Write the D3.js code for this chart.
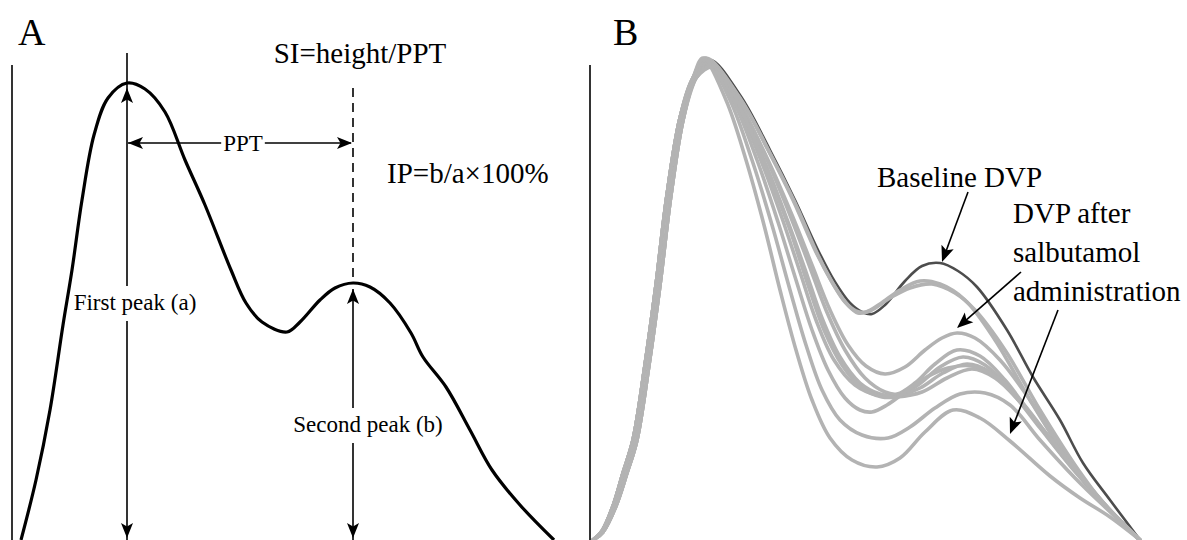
<!DOCTYPE html>
<html><head><meta charset="utf-8">
<script src="https://cdn.jsdelivr.net/npm/d3@7"></script>
<style>
html,body{margin:0;padding:0;background:#fff;}
svg{display:block;}
text{font-family:"Liberation Serif","Times New Roman",serif;fill:#000;}
</style></head><body>
<svg id="chart" width="1187" height="540" font-family="Liberation Serif, Times New Roman, serif"></svg>
<script>
// ---------- Panel A : single digital volume pulse (time in ms, amplitude in a.u.) ----------
const aTime = [2,32,60,86,104,124,148,176,214,250,290,330,370,422,452,484,534,560,600,630,666,700,740,782,806,852,900,944,1000,1068];
const aAmp  = [0,15,32.5,53.75,67.5,85,101.25,110.5,114.25,112.75,107,95,83.75,67.5,59.25,54.5,52,54.5,60,63,64.25,63.25,59.25,51.75,45.75,38.25,27.5,17.5,8.75,0];
const firstPeak  = {t: 214, a: 114.25};
const secondPeak = {t: 666, a: 64.25};

// ---------- Panel B : baseline DVP and DVPs after salbutamol ----------
const riseEarly = [[0,0],[18,2.25],[40,8.5],[60,16.75],[80,25],[104,43.75],[126,63.75],[148,86.25],[174,105.5],[200,115.5]];
const riseLate  = [[0,0],[20,2],[46,8.5],[68,16.75],[88,25],[112,43.75],[134,63.75],[156,86.25],[181,105.5],[206,115.5]];

const baselineFall = [[234,120],[294,111.25],[354,97.5],[404,85],[450,72.5],[484,64.5],[514,59.25],[538,57],[558,56.5],[584,58.75],[624,64.75],[658,68.5],[694,69.25],[730,67.25],[768,63.25],[828,52.5],[880,40.75],[934,30],[980,19.25],[1034,10],[1094,0]];

const salb1 = [[226,120.5],[290,111.25],[350,97.5],[400,85],[444,72.5],[478,64.5],[504,59.5],[526,57.25],[546,57],[574,59],[614,62.5],[654,64.75],[694,64],[744,60],[804,50],[874,35],[944,21.25],[1014,10],[1094,0]];
const salb2 = [[230,119.75],[296,110],[356,96.25],[406,83.75],[450,71.25],[484,63.25],[510,58.75],[530,56.75],[554,57.25],[594,60.5],[634,63],[678,64],[724,61.75],[764,57.5],[824,47.5],[894,32.5],[964,18.75],[1024,8.75],[1094,0]];
const salb3 = [[238,119],[294,108.75],[350,95],[398,81.25],[438,68.75],[474,57.5],[510,48.75],[546,43.5],[584,41.5],[624,43.25],[664,47.5],[698,50.5],[728,51.75],[764,50.5],[814,45],[874,35],[944,21.25],[1014,10],[1094,0]];
const salb4 = [[234,119.5],[290,110],[344,96.25],[390,82.5],[430,69.5],[466,57.5],[504,47.5],[544,40.5],[584,37],[608,36.5],[644,39.25],[684,44],[728,47.5],[774,46],[824,40],[884,30],[954,18.75],[1024,8.75],[1094,0]];
const salb5 = [[240,118.5],[294,108],[346,93.75],[390,79.5],[426,67],[458,55.5],[494,45.75],[534,39.25],[574,36.5],[608,36],[650,38.75],[694,43.25],[740,45.75],[784,43.75],[834,37.5],[894,28],[958,18],[1024,8.75],[1094,0]];
const salb6 = [[232,119.75],[284,110],[334,95.5],[378,80.5],[414,67],[446,55],[482,45],[524,38.75],[568,36.25],[608,36],[654,38],[700,41.75],[748,44],[794,42],[844,36],[904,27],[964,17.5],[1028,8.25],[1094,0]];
const salb7 = [[242,118.25],[296,107.5],[348,92.5],[394,77.5],[430,63.75],[462,52.5],[498,43.75],[538,38],[578,35.75],[608,35.75],[658,37],[708,40.5],[758,42.75],[804,40.5],[854,34.5],[910,26],[970,16.75],[1030,8],[1094,0]];
const salb8 = [[228,120.25],[280,110],[328,95],[370,79.5],[406,65],[438,52.5],[470,42.5],[504,35.5],[534,32.5],[558,32],[588,33.75],[624,37],[664,40.5],[710,43],[758,43.5],[804,41],[854,35],[914,25.5],[974,16.25],[1034,7.5],[1094,0]];
const salb9 = [[224,120.5],[274,110],[318,95],[358,78.75],[394,62.5],[426,48.75],[458,37.5],[494,30],[538,26.25],[590,25.5],[634,28.25],[684,33],[734,36.5],[784,36.75],[834,33.75],[894,25],[964,15.5],[1030,7.5],[1094,0]];
const salb10 = [[220,120.5],[266,110],[306,95],[342,78.75],[374,62.5],[406,47.5],[438,35],[474,25.5],[518,20],[568,18.25],[614,20.5],[664,27],[720,32.5],[774,30.5],[834,24.75],[914,16],[974,10.5],[1034,5.75],[1094,0]];

const salbFalls = [salb1,salb2,salb3,salb4,salb5,salb6,salb7,salb8,salb9,salb10];
const salbRise  = ["early","late","late","early","late","early","late","early","early","early"];

// annotation arrows of panel B, in data units [time, amplitude]
const arrowsB = [
  {from:[750,87],  to:[698,69.5]},
  {from:[856,67],  to:[728,53]},
  {from:[930,57.5],to:[834,26.5]}
];

// ---------- drawing ----------
const svg = d3.select("#chart");
const xA = d3.scaleLinear().domain([0,1060]).range([20,550]);
const yA = d3.scaleLinear().domain([0,120]).range([540,60]);
const xB = d3.scaleLinear().domain([0,1094]).range([593,1140]);
const yB = d3.scaleLinear().domain([0,120]).range([540,60]);

function head(g, x, y, deg, L=15, W=6, N=3.5){
  g.append("path")
    .attr("d", `M0,0L${-L},${-W}L${-L+N},0L${-L},${W}Z`)
    .attr("transform", `translate(${x},${y}) rotate(${deg})`)
    .attr("fill","#000");
}
function vline(g, x, y1, y2, extra){
  const l = g.append("line").attr("x1",x).attr("x2",x).attr("y1",y1).attr("y2",y2)
    .attr("stroke","#000").attr("stroke-width",1.6);
  if (extra) extra(l);
  return l;
}

// frame lines
const frame = svg.append("g");
vline(frame, 12, 65, 540);
vline(frame, 590, 65, 540);

// panel letters
svg.append("text").attr("x",18).attr("y",45).attr("font-size",38).text("A");
svg.append("text").attr("x",613).attr("y",45).attr("font-size",38).text("B");

// ----- Panel A -----
const gA = svg.append("g");
const lineA = d3.line().x(d=>xA(d[0])).y(d=>yA(d[1])).curve(d3.curveCatmullRom.alpha(0.5));
gA.append("path").datum(aTime.map((t,i)=>[t,aAmp[i]]))
  .attr("d", lineA).attr("fill","none").attr("stroke","#000").attr("stroke-width",3.2)
  .attr("stroke-linejoin","round");

const p1x = xA(firstPeak.t), p1y = yA(firstPeak.a);
const p2x = xA(secondPeak.t), p2y = yA(secondPeak.a);

// labels
const tFirst = gA.append("text").attr("x",p1x+8).attr("y",310).attr("text-anchor","middle")
  .attr("font-size",23).text("First peak (a)");
const tSecond = gA.append("text").attr("x",p2x+15).attr("y",432).attr("text-anchor","middle")
  .attr("font-size",23).text("Second peak (b)");
const tPPT = gA.append("text").attr("x",(p1x+p2x)/2+3).attr("y",151).attr("text-anchor","middle")
  .attr("font-size",23).text("PPT");
gA.append("text").attr("x",360).attr("y",63).attr("text-anchor","middle")
  .attr("font-size",29).text("SI=height/PPT");
gA.append("text").attr("x",387).attr("y",183).attr("font-size",29).text("IP=b/a\u00d7100%");

// first-peak vertical arrow (with gap for label)
const bf = tFirst.node().getBBox();
vline(gA, p1x, p1y-30, bf.y-4);
vline(gA, p1x, bf.y+bf.height+6, 540);
head(gA, p1x, p1y+5, -90);
head(gA, p1x, 538, 90);

// second-peak vertical arrow
const bs = tSecond.node().getBBox();
vline(gA, p2x, p2y+6, bs.y-4);
vline(gA, p2x, bs.y+bs.height+6, 540);
head(gA, p2x, p2y+6, -90);
head(gA, p2x, 538, 90);

// dashed line above second peak
vline(gA, p2x, p1y+5, p2y-3, l=>l.attr("stroke-dasharray","9,6").attr("stroke-width",1.6));

// PPT horizontal arrow
const bp = tPPT.node().getBBox();
const pptY = 143;
gA.append("line").attr("x1",p1x+1).attr("x2",bp.x-2).attr("y1",pptY).attr("y2",pptY).attr("stroke","#000").attr("stroke-width",1.6);
gA.append("line").attr("x1",bp.x+bp.width+2).attr("x2",p2x-2).attr("y1",pptY).attr("y2",pptY).attr("stroke","#000").attr("stroke-width",1.6);
head(gA, p1x+1, pptY, 180);
head(gA, p2x-1, pptY, 0);

// ----- Panel B -----
const gB = svg.append("g");
const lineB = d3.line().x(d=>xB(d[0])).y(d=>yB(d[1])).curve(d3.curveCatmullRom.alpha(0.5));
gB.append("path").datum(riseEarly.concat(baselineFall))
  .attr("d", lineB).attr("fill","none").attr("stroke","#4d4d4d").attr("stroke-width",2.6);
salbFalls.forEach((f,i)=>{
  const rise = salbRise[i]==="early" ? riseEarly : riseLate;
  gB.append("path").datum(rise.concat(f))
    .attr("d", lineB).attr("fill","none").attr("stroke","#b3b3b3").attr("stroke-width",3.6)
    .attr("stroke-linejoin","round").attr("stroke-linecap","round");
});

gB.append("text").attr("x",877).attr("y",187).attr("font-size",29).text("Baseline DVP");
gB.append("text").attr("x",1013).attr("y",223).attr("font-size",29).text("DVP after");
gB.append("text").attr("x",1013).attr("y",262).attr("font-size",29).text("salbutamol");
gB.append("text").attr("x",1013).attr("y",301).attr("font-size",29).text("administration");

arrowsB.forEach(a=>{
  const x1=xB(a.from[0]), y1=yB(a.from[1]), x2=xB(a.to[0]), y2=yB(a.to[1]);
  const ang = Math.atan2(y2-y1, x2-x1);
  gB.append("line").attr("x1",x1).attr("y1",y1)
    .attr("x2",x2-Math.cos(ang)*6).attr("y2",y2-Math.sin(ang)*6)
    .attr("stroke","#000").attr("stroke-width",1.6);
  head(gB, x2, y2, ang*180/Math.PI, 16, 6.5, 3.5);
});
</script>
</body></html>
